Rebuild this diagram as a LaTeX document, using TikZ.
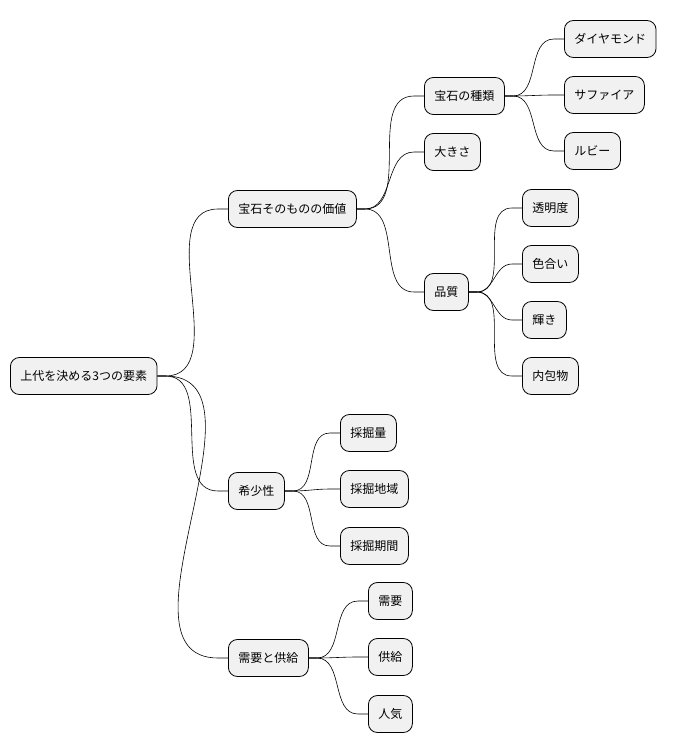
\documentclass[tikz,border=0pt]{standalone}
\usepackage{fontspec}
\setmainfont{Noto Sans CJK JP}
\begin{document}
\begin{tikzpicture}[x=1pt,y=1pt,
  mm/.style={draw=black,line width=0.8pt,fill={rgb,255:red,241;green,241;blue,241},rounded corners=9pt,minimum height=37pt,inner xsep=10pt,anchor=west,font=\fontsize{12}{14}\selectfont},
  ln/.style={line width=0.6pt}]
\useasboundingbox (0,0) rectangle (679,-752);
\node[mm] (r) at (10,-376) {上代を決める3つの要素};
\node[mm] (a) at (228,-209) {宝石そのものの価値};
\node[mm] (b) at (228,-491) {希少性};
\node[mm] (c) at (228,-658) {需要と供給};
\node[mm] (a1) at (424,-96) {宝石の種類};
\node[mm] (a2) at (424,-152) {大きさ};
\node[mm] (a3) at (424,-292) {品質};
\node[mm] (a11) at (564,-39) {ダイヤモンド};
\node[mm] (a12) at (564,-95) {サファイア};
\node[mm] (a13) at (564,-151) {ルビー};
\node[mm] (a31) at (522,-208) {透明度};
\node[mm] (a32) at (522,-264) {色合い};
\node[mm] (a33) at (522,-320) {輝き};
\node[mm] (a34) at (522,-376) {内包物};
\node[mm] (b1) at (340,-433) {採掘量};
\node[mm] (b2) at (340,-489) {採掘地域};
\node[mm] (b3) at (340,-546) {採掘期間};
\node[mm] (c1) at (368,-601) {需要};
\node[mm] (c2) at (368,-657) {供給};
\node[mm] (c3) at (368,-714) {人気};
\foreach \p/\c in {r/a,r/b,r/c,a/a1,a/a2,a/a3,a1/a11,a1/a12,a1/a13,a3/a31,a3/a32,a3/a33,a3/a34,b/b1,b/b2,b/b3,c/c1,c/c2,c/c3}{
  \draw[ln] (\p.east) -- ++(8,0) to[out=0,in=180] ([xshift=-10pt]\c.west) -- (\c.west);
}
\end{tikzpicture}
\end{document}
